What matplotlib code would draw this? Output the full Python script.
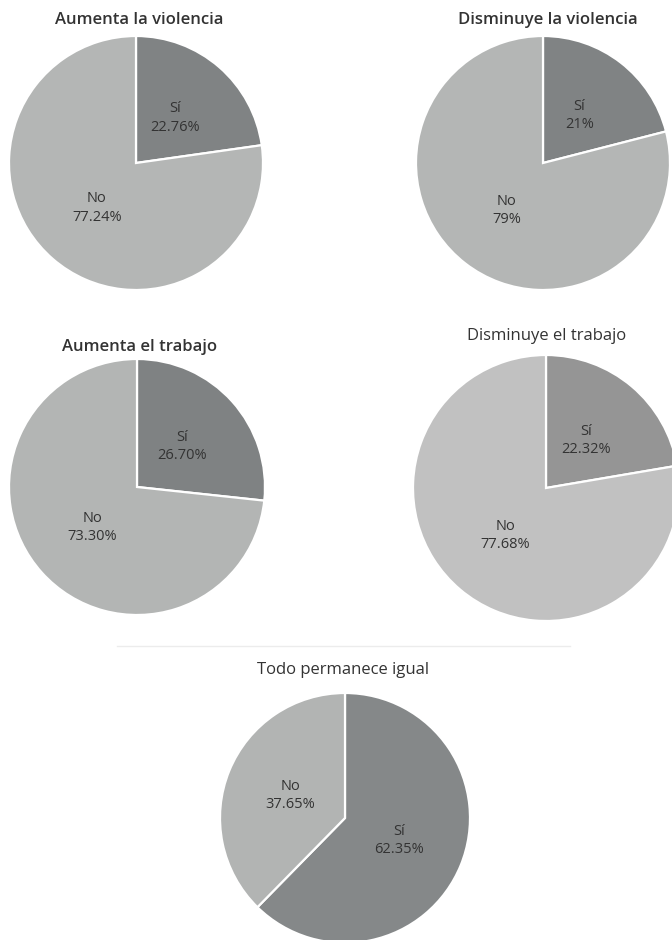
import matplotlib
matplotlib.use("Agg")
import matplotlib.pyplot as plt

# chart data
titles = ["Aumenta la violencia", "Disminuye la violencia",
          "Aumenta el trabajo", "Disminuye el trabajo", "Todo permanece igual"]
categories = ["Sí", "No"]
si_values = [22.76, 21, 26.70, 22.32, 62.35]
no_values = [77.24, 79, 73.30, 77.68, 37.65]
si_text = ["22.76%", "21%", "26.70%", "22.32%", "62.35%"]
no_text = ["77.24%", "79%", "73.30%", "77.68%", "37.65%"]

# layout in pixels: pie centre (x, y), radius, title position, title weight
W, H = 672, 940
pies = [
    ((136, 163), 127, (139, 20), "semibold"),
    ((543, 163), 127, (548, 20), "semibold"),
    ((137, 487), 128, (140, 347), "semibold"),
    ((546, 488), 133, (547, 336), "normal"),
    ((345, 818), 125, (343, 670), "normal"),
]
colors = [
    ("#808384", "#b4b6b5"),
    ("#808384", "#b4b6b5"),
    ("#7f8283", "#b3b5b4"),
    ("#959595", "#c1c1c1"),
    ("#858889", "#b2b4b3"),
]

plt.rcParams['font.family'] = ['Open Sans', 'DejaVu Sans']
fig = plt.figure(figsize=(W / 100, H / 100), dpi=100)

for i in range(len(titles)):
    (cx, cy), r, (tx, ty), tw = pies[i]
    ax = fig.add_axes([(cx - r) / W, (H - cy - r) / H, 2 * r / W, 2 * r / H])
    labels = [f"{categories[0]}\n{si_text[i]}", f"{categories[1]}\n{no_text[i]}"]
    wedges, texts = ax.pie([si_values[i], no_values[i]], labels=labels,
                           colors=colors[i], startangle=90, counterclock=False,
                           labeldistance=0.47, radius=1,
                           wedgeprops=dict(edgecolor="white", linewidth=1.6),
                           textprops=dict(fontsize=10.5, color="#333333"))
    for t in texts:
        t.set_ha("center")
        t.set_va("center")
        t.set_linespacing(1.3)
    ax.set_xlim(-1, 1)
    ax.set_ylim(-1, 1)
    ax.set_aspect("equal")
    ax.axis("off")
    fig.text(tx / W, 1 - ty / H, titles[i], ha="center", va="center",
             fontsize=12, color="#333333", fontweight=tw)

# thin separator above the last chart
fig.add_artist(plt.Line2D([117 / W, 570 / W], [1 - 646 / H, 1 - 646 / H],
                          color="#ececec", linewidth=1))

fig.savefig("out.png", dpi=100)
